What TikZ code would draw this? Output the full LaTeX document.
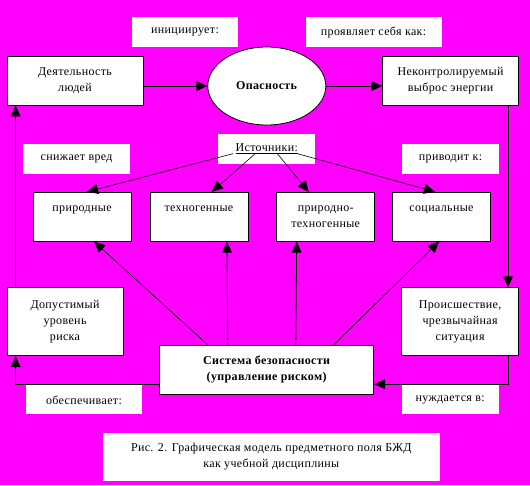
\documentclass[tikz,border=0pt]{standalone}
\usepackage{fontspec}
\setmainfont{Liberation Serif}[LetterSpace=3]
\usetikzlibrary{shapes.geometric, arrows.meta, positioning}
\definecolor{bgmag}{RGB}{255,0,255}

\begin{document}
\begin{tikzpicture}[
    node distance=20pt and 20pt,
    every node/.style={font=\fontsize{12}{16}\selectfont},
    box/.style={rectangle, draw=black, fill=white, line width=0.8pt, align=center, inner sep=2pt},
    srcbox/.style={box, minimum width=98pt, minimum height=49pt},
    tag/.style={rectangle, fill=white, align=center, minimum height=30pt, inner sep=2pt},
    arrow/.style={-{Triangle[length=11pt,width=10pt]}, line width=0.8pt},
    thinarrow/.style={-{Triangle[length=11pt,width=10pt]}, line width=0.6pt}
]
    % Background
    \fill [bgmag] (0,0) rectangle (530pt,-485pt);

    % Top row
    \node (act) [box, minimum width=136pt, minimum height=49pt] at (75pt,-80.5pt) {Деятельность\\людей};
    \node (hazard) [ellipse, draw=black, fill=white, line width=0.8pt, minimum width=118pt, minimum height=78pt, inner sep=0pt, right=64pt of act, yshift=-5.5pt] {\textbf{Опасность}};
    \node (energy) [box, minimum width=136pt, minimum height=49pt, right=56pt of hazard, yshift=5.5pt] {Неконтролируемый\\выброс энергии};

    \node (init) [tag, minimum width=106pt, above=8pt of act, xshift=110pt] {инициирует:};
    \node (shows) [tag, minimum width=136pt, above=8pt of energy, xshift=-77pt] {проявляет себя как:};

    % Sources
    \node (src) [tag, minimum width=97pt, below=8pt of hazard] {\underline{Источники:}};
    \node (tech) [srcbox, below left=28pt and 18.5pt of src.south] {техногенные\\\phantom{x}};
    \node (nat) [srcbox, left=18pt of tech] {природные\\\phantom{x}};
    \node (nattech) [srcbox, right=28pt of tech] {природно-\\техногенные};
    \node (social) [srcbox, right=17pt of nattech] {социальные\\\phantom{x}};

    \node (lessharm) [tag, minimum width=107pt, above=18pt of nat, xshift=-5.5pt] {снижает вред};
    \node (leads) [tag, minimum width=97pt, above=18pt of social, xshift=9pt] {приводит к:};

    % Bottom row
    \node (safety) [box, minimum width=214pt, minimum height=49pt, below=181pt of src] {\textbf{Система безопасности}\\\textbf{(управление риском)}};
    \node (tolerable) [box, minimum width=116pt, minimum height=68pt, below right=182pt and 0pt of act.south west] {Допустимый\\уровень\\риска};
    \node (incident) [box, minimum width=117pt, minimum height=68pt, below left=182pt and 0pt of energy.south east] {Происшествие,\\чрезвычайная\\ситуация};

    \node (ensures) [tag, minimum width=116pt, minimum height=29pt, below=29pt of tolerable, xshift=19pt] {обеспечивает:};
    \node (needs) [tag, minimum width=97pt, minimum height=29pt, below=29pt of incident, xshift=-10pt] {нуждается в:};
    \node (caption) [tag, minimum width=337pt, minimum height=48pt, below=38pt of safety, xshift=4.5pt] {Рис. 2. Графическая модель предметного поля БЖД\\как учебной дисциплины};

    % Outer cycle
    \draw [arrow] (hazard.west -| act.east) -- (hazard.west);
    \draw [arrow] (hazard.east) -- (hazard.east -| energy.west);
    \draw [arrow] ([xshift=-11pt]energy.south east) -- ([xshift=-11pt]incident.north east);
    \draw [arrow] ([xshift=-11pt]incident.south east) |- ([yshift=-14.5pt]safety.east);
    \draw [arrow] ([yshift=-14.5pt]safety.west) -| ([xshift=9pt]tolerable.south west);
    \draw [arrow] ([xshift=9pt]tolerable.north west) -- ([xshift=9pt]act.south west);

    % Sources fan out
    \draw [thinarrow] ([shift={(-33.5pt,-5pt)}]src.center) -- ([xshift=5pt]nat.north);
    \draw [thinarrow] ([shift={(-11.5pt,-5pt)}]src.center) -- ([xshift=13pt]tech.north);
    \draw [thinarrow] ([shift={(10.5pt,-5pt)}]src.center) -- ([xshift=-17pt]nattech.north);
    \draw [thinarrow] ([shift={(30.5pt,-5pt)}]src.center) -- ([xshift=-6.5pt]social.north);

    % Safety system acts on sources
    \draw [thinarrow] ([xshift=-59pt]safety.north) -- ([xshift=12pt]nat.south);
    \draw [arrow] ([xshift=-39pt]safety.north) -- ([xshift=28pt]tech.south);
    \draw [arrow] ([xshift=29pt]safety.north) -- ([xshift=-29pt]nattech.south);
    \draw [thinarrow] ([xshift=67pt]safety.north) -- ([xshift=-2.5pt]social.south);

\end{tikzpicture}
\end{document}
